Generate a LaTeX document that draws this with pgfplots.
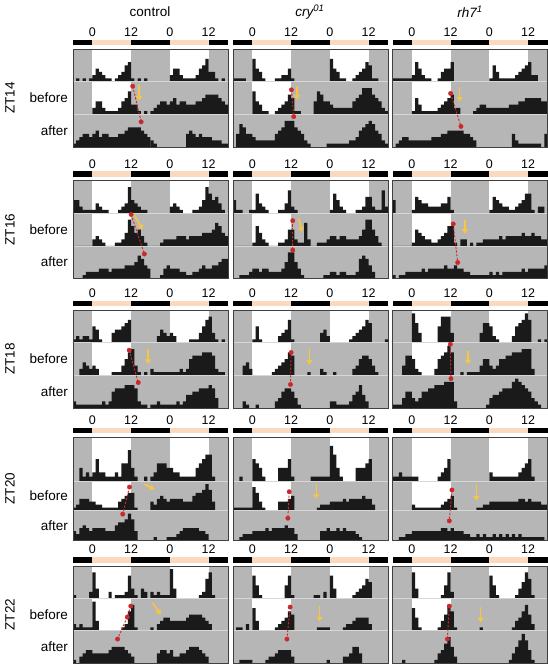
\documentclass[border=0pt]{standalone}
\usepackage{pgfplots}
\pgfplotsset{compat=1.18}
\usepackage{pgfplotstable}
\usepackage{fontspec}
\setmainfont{Liberation Sans}
\usetikzlibrary{arrows.meta}
\definecolor{bgray}{RGB}{182,182,182}
\definecolor{peach}{RGB}{250,217,190}
\definecolor{hist}{RGB}{26,26,26}
\definecolor{rdot}{RGB}{204,40,42}
\definecolor{yarr}{RGB}{247,198,64}
\definecolor{frm}{RGB}{64,64,64}
\definecolor{sep}{RGB}{215,215,215}

\newcommand\seg[2]{\pgfplotstableread[row sep=\\,header=false]{#20\\}#1}

% ---------- ZT14 ----------
\seg{\ctlXIVa}{0\\1\\0\\1\\0\\1\\2\\4\\3\\2\\1\\1\\0\\1\\2\\3\\5\\6\\1\\0\\1\\0\\1\\0\\}
\seg{\ctlXIVb}{0\\0\\0\\0\\0\\0\\2\\4\\4\\2\\1\\1\\1\\1\\2\\4\\5\\7\\3\\3\\1\\0\\1\\0\\}
\seg{\ctlXIVc}{1\\2\\3\\4\\4\\3\\4\\5\\3\\4\\4\\3\\3\\3\\4\\4\\5\\6\\6\\6\\6\\5\\4\\3\\}
\seg{\ctlXIVd}{2\\1\\0\\0\\0\\0\\0\\0\\0\\0\\0\\4\\5\\4\\3\\4\\3\\3\\3\\2\\2\\2\\1\\1\\}
\seg{\cryXIVa}{1\\1\\1\\1\\0\\0\\7\\4\\3\\1\\0\\0\\0\\1\\1\\2\\2\\4\\1\\0\\0\\0\\0\\0\\}
\seg{\cryXIVb}{0\\0\\0\\0\\0\\0\\7\\4\\3\\1\\1\\0\\0\\1\\2\\3\\4\\6\\5\\1\\1\\0\\0\\0\\}
\seg{\cryXIVc}{0\\4\\7\\6\\4\\4\\3\\2\\2\\2\\2\\2\\2\\4\\5\\6\\8\\8\\8\\6\\5\\4\\2\\1\\}
\seg{\cryXIVd}{0\\0\\0\\0\\0\\1\\1\\1\\1\\1\\1\\1\\2\\2\\3\\5\\6\\7\\8\\7\\5\\4\\2\\1\\}
\seg{\rhXIVa}{1\\1\\1\\1\\1\\1\\2\\6\\4\\2\\1\\1\\0\\0\\1\\3\\4\\4\\6\\0\\0\\0\\0\\0\\}
\seg{\rhXIVb}{0\\0\\0\\0\\0\\0\\1\\5\\3\\1\\1\\1\\1\\1\\2\\3\\4\\5\\6\\2\\2\\0\\0\\0\\}
\seg{\rhXIVc}{0\\1\\2\\3\\3\\2\\2\\2\\2\\2\\2\\2\\3\\3\\3\\4\\4\\5\\5\\5\\5\\5\\4\\4\\}
\seg{\rhXIVd}{3\\2\\0\\0\\0\\0\\0\\0\\0\\0\\0\\0\\0\\4\\2\\1\\1\\1\\1\\1\\1\\1\\0\\4\\}
% ---------- ZT16 ----------
\seg{\ctlXVIa}{4\\4\\2\\1\\1\\1\\1\\3\\2\\1\\1\\0\\0\\0\\1\\2\\3\\8\\4\\3\\2\\1\\1\\0\\}
\seg{\ctlXVIb}{0\\0\\0\\0\\0\\0\\2\\3\\2\\1\\0\\0\\0\\1\\1\\2\\4\\8\\6\\4\\5\\3\\1\\0\\}
\seg{\ctlXVIc}{0\\0\\0\\1\\2\\2\\2\\2\\3\\3\\3\\2\\3\\3\\3\\3\\4\\4\\4\\5\\7\\6\\4\\3\\}
\seg{\ctlXVId}{0\\0\\0\\1\\3\\4\\3\\3\\3\\2\\2\\1\\1\\2\\2\\3\\4\\3\\3\\4\\4\\5\\6\\6\\}
\seg{\cryXVIa}{4\\1\\1\\0\\0\\1\\1\\6\\3\\2\\1\\0\\0\\0\\1\\1\\3\\7\\2\\1\\0\\0\\0\\0\\}
\seg{\cryXVIb}{0\\0\\0\\0\\0\\0\\1\\6\\4\\2\\1\\0\\0\\0\\1\\1\\2\\5\\5\\2\\1\\1\\7\\2\\}
\seg{\cryXVIc}{0\\0\\1\\1\\1\\2\\3\\3\\2\\3\\3\\2\\2\\2\\2\\3\\5\\8\\8\\5\\3\\1\\0\\0\\}
\seg{\cryXVId}{0\\0\\0\\0\\1\\1\\2\\2\\1\\2\\2\\1\\1\\1\\2\\6\\7\\6\\4\\2\\0\\0\\0\\0\\}
\seg{\rhXVIa}{4\\0\\0\\0\\0\\0\\1\\5\\4\\3\\3\\2\\2\\2\\2\\3\\3\\5\\1\\0\\0\\0\\0\\0\\}
\seg{\rhXVIb}{0\\0\\0\\0\\0\\0\\1\\5\\4\\3\\2\\2\\1\\1\\2\\3\\4\\6\\6\\1\\0\\2\\2\\0\\}
\seg{\rhXVIc}{1\\0\\1\\1\\2\\2\\2\\2\\2\\3\\2\\3\\3\\3\\3\\3\\4\\3\\3\\4\\3\\3\\2\\2\\}
\seg{\rhXVId}{1\\1\\1\\1\\1\\1\\2\\1\\2\\1\\2\\2\\2\\2\\2\\2\\3\\2\\3\\3\\3\\3\\3\\4\\}
% ---------- ZT18 ----------
\seg{\ctlXVIIIa}{1\\2\\1\\2\\2\\1\\5\\4\\1\\0\\0\\0\\3\\4\\4\\5\\6\\7\\0\\0\\0\\0\\0\\0\\}
\seg{\ctlXVIIIb}{0\\0\\2\\4\\3\\2\\3\\2\\0\\0\\0\\0\\1\\1\\1\\3\\5\\7\\8\\3\\1\\0\\1\\0\\}
\seg{\ctlXVIIIc}{2\\1\\1\\1\\1\\1\\1\\1\\1\\2\\1\\2\\5\\6\\6\\6\\7\\7\\7\\6\\2\\1\\1\\0\\}
\seg{\ctlXVIIId}{1\\1\\2\\1\\1\\1\\1\\1\\2\\1\\2\\4\\4\\5\\5\\6\\6\\6\\7\\6\\3\\0\\0\\0\\}
\seg{\cryXVIIIa}{0\\0\\0\\0\\0\\0\\1\\5\\1\\0\\0\\0\\0\\0\\2\\3\\4\\7\\1\\0\\0\\0\\0\\0\\}
\seg{\cryXVIIIb}{0\\0\\0\\3\\4\\2\\0\\0\\0\\0\\0\\0\\1\\2\\3\\4\\5\\7\\6\\0\\0\\0\\0\\1\\}
\seg{\cryXVIIIc}{0\\0\\0\\2\\1\\0\\0\\1\\0\\0\\0\\0\\0\\2\\3\\5\\6\\6\\5\\3\\1\\0\\0\\0\\}
\seg{\cryXVIIId}{0\\0\\0\\0\\0\\0\\2\\2\\1\\1\\1\\1\\2\\4\\5\\7\\4\\2\\0\\0\\0\\0\\0\\0\\}
\seg{\rhXVIIIa}{0\\0\\0\\0\\0\\0\\9\\6\\3\\0\\0\\0\\0\\0\\5\\8\\8\\8\\3\\0\\0\\0\\0\\0\\}
\seg{\rhXVIIIb}{0\\0\\0\\3\\6\\6\\5\\2\\1\\0\\0\\0\\0\\2\\5\\6\\7\\9\\7\\0\\0\\1\\0\\1\\}
\seg{\rhXVIIIc}{1\\1\\1\\3\\5\\5\\3\\2\\3\\5\\5\\6\\6\\7\\7\\7\\8\\8\\8\\2\\0\\0\\0\\0\\}
\seg{\rhXVIIId}{0\\0\\0\\0\\0\\1\\3\\4\\4\\5\\6\\6\\6\\8\\9\\8\\7\\6\\5\\3\\2\\1\\0\\0\\}
% ---------- ZT20 ----------
\seg{\ctlXXa}{0\\0\\3\\1\\2\\1\\2\\5\\2\\2\\1\\1\\1\\2\\1\\4\\4\\7\\3\\1\\0\\0\\1\\0\\}
\seg{\ctlXXb}{1\\2\\4\\4\\4\\3\\3\\2\\2\\1\\1\\1\\1\\1\\3\\4\\5\\6\\6\\1\\0\\0\\0\\0\\}
\seg{\ctlXXc}{3\\2\\4\\5\\4\\3\\4\\4\\4\\4\\3\\3\\3\\5\\6\\6\\7\\9\\7\\3\\0\\0\\0\\0\\}
\seg{\ctlXXd}{0\\1\\0\\0\\0\\1\\1\\1\\2\\3\\4\\4\\4\\4\\4\\3\\3\\2\\0\\0\\0\\0\\0\\0\\}
\seg{\cryXXa}{0\\0\\1\\0\\0\\0\\5\\4\\3\\1\\0\\0\\0\\0\\3\\3\\3\\5\\1\\0\\0\\0\\0\\0\\}
\seg{\cryXXb}{1\\1\\1\\1\\1\\1\\8\\6\\3\\1\\0\\0\\0\\0\\3\\3\\3\\4\\5\\0\\0\\0\\0\\0\\}
\seg{\cryXXc}{0\\0\\1\\2\\2\\2\\3\\3\\3\\3\\4\\3\\4\\4\\4\\4\\5\\4\\4\\2\\0\\0\\0\\0\\}
\seg{\cryXXd}{0\\0\\0\\3\\3\\4\\3\\3\\4\\3\\4\\3\\3\\3\\2\\1\\0\\0\\0\\0\\0\\0\\0\\0\\}
\seg{\rhXXa}{1\\1\\2\\1\\1\\1\\1\\1\\0\\0\\0\\0\\0\\0\\1\\2\\3\\5\\0\\0\\0\\0\\0\\0\\}
\seg{\rhXXb}{0\\0\\0\\0\\0\\0\\2\\1\\1\\1\\1\\1\\1\\1\\1\\2\\3\\4\\5\\1\\0\\0\\0\\0\\}
\seg{\rhXXc}{0\\0\\1\\1\\2\\2\\3\\3\\3\\3\\3\\3\\3\\3\\3\\4\\4\\3\\4\\3\\3\\3\\2\\2\\}
\seg{\rhXXd}{1\\1\\2\\1\\2\\1\\1\\2\\1\\2\\1\\2\\1\\2\\1\\2\\1\\1\\1\\1\\1\\1\\1\\0\\}
% ---------- ZT22 ----------
\seg{\ctlXXIIa}{1\\0\\0\\0\\0\\2\\8\\3\\0\\0\\0\\2\\0\\1\\1\\1\\2\\7\\3\\1\\0\\3\\2\\0\\}
\seg{\ctlXXIIb}{2\\1\\2\\1\\1\\1\\9\\3\\0\\0\\0\\0\\0\\0\\0\\1\\2\\6\\8\\1\\0\\0\\0\\0\\}
\seg{\ctlXXIIc}{1\\0\\2\\3\\4\\4\\3\\3\\3\\3\\3\\4\\5\\5\\5\\5\\4\\3\\2\\0\\0\\0\\0\\0\\}
\seg{\ctlXXIId}{0\\0\\3\\4\\4\\3\\4\\2\\2\\3\\3\\4\\5\\5\\5\\4\\3\\2\\0\\0\\0\\0\\0\\0\\}
\seg{\cryXXIIa}{0\\0\\0\\0\\0\\0\\7\\4\\1\\0\\0\\0\\0\\0\\0\\0\\4\\7\\1\\0\\0\\0\\0\\0\\}
\seg{\cryXXIIb}{0\\1\\1\\0\\2\\0\\7\\3\\0\\0\\0\\0\\0\\1\\2\\3\\4\\6\\5\\0\\0\\0\\0\\0\\}
\seg{\cryXXIIc}{0\\0\\1\\1\\1\\1\\0\\0\\0\\0\\1\\2\\2\\3\\4\\4\\4\\4\\2\\0\\0\\0\\0\\0\\}
\seg{\cryXXIId}{0\\0\\0\\0\\0\\1\\0\\0\\0\\0\\2\\2\\3\\5\\5\\3\\0\\0\\0\\0\\0\\0\\0\\0\\}
\seg{\rhXXIIa}{0\\0\\0\\0\\0\\0\\8\\3\\0\\0\\0\\0\\0\\0\\0\\1\\4\\8\\2\\0\\0\\0\\0\\0\\}
\seg{\rhXXIIb}{0\\0\\0\\0\\0\\0\\7\\4\\1\\0\\0\\0\\0\\0\\1\\3\\5\\8\\6\\1\\0\\0\\0\\0\\}
\seg{\rhXXIIc}{0\\0\\0\\1\\0\\0\\0\\0\\0\\0\\0\\0\\0\\1\\3\\4\\6\\8\\5\\2\\0\\0\\0\\0\\}
\seg{\rhXXIId}{0\\0\\0\\0\\0\\0\\0\\0\\0\\0\\0\\0\\1\\3\\5\\7\\9\\7\\4\\1\\0\\0\\0\\0\\}

\pgfplotsset{
  panel/.style={
    scale only axis, width=155pt, anchor=north west,
    xmin=-6, xmax=42, ymin=0,
    xtick={0,12,24,36}, xticklabels={0,12,0,12}, xticklabel pos=upper,
    major tick length=0pt, ytick=\empty,
    xticklabel style={font=\fontsize{12.5}{13}\selectfont, yshift=8.5pt},
    axis line style={draw=frm, line width=0.9pt},
    clip=false, axis on top,
  },
  hb/.style={const plot, fill=hist, draw=none},
  rdash/.style={rdot, line width=0.9pt, dash pattern=on 2.2pt off 1.6pt},
  rdots/.style={only marks, mark=*, mark size=2.2pt, mark options={draw=rdot, fill=rdot}},
  yarw/.style={yarr, line width=1.6pt, -{Triangle[length=4.5pt,width=6pt]}},
}
\newcommand\ann[2]{%
  \addplot[rdash] coordinates {#1};
  \addplot[rdots] coordinates {#1};
  \addplot[yarw] coordinates {#2};}
% #1 x, #2 y, #3 height, #4 top-row scale, #5 ymax, #6-#9 day segments
\newcommand\panel[9]{%
\begin{axis}[panel, at={(#1pt,#2pt)}, height=#3pt, ymax=#5]
  \fill[bgray] (axis cs:-6,2) rectangle (axis cs:42,#5);
  \fill[white] (axis cs:0,2) rectangle (axis cs:12,#5);
  \fill[white] (axis cs:24,2) rectangle (axis cs:36,#5);
  \addplot[hb] table[x index=0, y index=0, x expr=\coordindex-6, y expr=#4*\thisrowno{0}/10+2] {#6} \closedcycle;
  \addplot[hb] table[x index=0, y index=0, x expr=\coordindex+18, y expr=#4*\thisrowno{0}/10+2] {#7} \closedcycle;
  \fill[bgray] (axis cs:-6,1) rectangle (axis cs:42,2);
  \fill[white] (axis cs:0,1) rectangle (axis cs:12,2);
  \addplot[hb] table[x index=0, y index=0, x expr=\coordindex-6, y expr=\thisrowno{0}/10+1] {#7} \closedcycle;
  \addplot[hb] table[x index=0, y index=0, x expr=\coordindex+18, y expr=\thisrowno{0}/10+1] {#8} \closedcycle;
  \fill[bgray] (axis cs:-6,0) rectangle (axis cs:42,1);
  \addplot[hb] table[x index=0, y index=0, x expr=\coordindex-6, y expr=\thisrowno{0}/10] {#8} \closedcycle;
  \addplot[hb] table[x index=0, y index=0, x expr=\coordindex+18, y expr=\thisrowno{0}/10] {#9} \closedcycle;
  \draw[sep, line width=0.6pt] (axis cs:-6,1) -- (axis cs:42,1);
  \draw[sep, line width=0.6pt] (axis cs:-6,2) -- (axis cs:42,2);
  \fill[black] (rel axis cs:0,1.036) rectangle (rel axis cs:0.125,1.092);
  \fill[peach] (rel axis cs:0.125,1.036) rectangle (rel axis cs:0.375,1.092);
  \fill[black] (rel axis cs:0.375,1.036) rectangle (rel axis cs:0.625,1.092);
  \fill[peach] (rel axis cs:0.625,1.036) rectangle (rel axis cs:0.875,1.092);
  \fill[black] (rel axis cs:0.875,1.036) rectangle (rel axis cs:1,1.092);
  \annot
\end{axis}}

\begin{document}
\begin{tikzpicture}
\useasboundingbox (0,0) rectangle (548pt,-664pt);
\tikzset{lab/.style={font=\fontsize{13.5}{15}\selectfont, inner sep=0pt}}
\node[lab] at (150pt,-12pt) {control};
\node[lab] at (310pt,-12pt) {\itshape cry\textsuperscript{01}};
\node[lab] at (470pt,-12pt) {\itshape rh7\textsuperscript{1}};
% row labels
\foreach \yc/\lbl in {98/ZT14, 229.5/ZT16, 359/ZT18, 488.5/ZT20, 614.5/ZT22}
  \node[lab, rotate=90] at (10pt,-\yc pt) {\lbl};
\foreach \yc in {98, 229.5, 359, 495.9, 614.5}
  \node[lab, anchor=east] at (68pt,-\yc pt) {before};
\foreach \yc in {130.7, 262, 391.7, 525.3, 646.8}
  \node[lab, anchor=east] at (68pt,-\yc pt) {after};

% ZT14
\def\annot{\ann{(12.5,1.86) (15.1,0.77)}{(14.5,1.9) (14.5,1.42)}}
\panel{73}{-49}{98}{1}{3}{\ctlXIVa}{\ctlXIVb}{\ctlXIVc}{\ctlXIVd}
\def\annot{\ann{(12.1,1.75) (12.8,0.93)}{(13.8,1.88) (13.8,1.45)}}
\panel{233}{-49}{98}{1}{3}{\cryXIVa}{\cryXIVb}{\cryXIVc}{\cryXIVd}
\def\annot{\ann{(12.0,1.64) (15.2,0.63)}{(14.8,1.85) (14.8,1.40)}}
\panel{392.5}{-49}{98}{1}{3}{\rhXIVa}{\rhXIVb}{\rhXIVc}{\rhXIVd}
% ZT16
\def\annot{\ann{(12.0,1.96) (16.1,0.75)}{(13.0,1.95) (15.5,1.5)}}
\panel{73}{-180.5}{98}{1}{3}{\ctlXVIa}{\ctlXVIb}{\ctlXVIc}{\ctlXVId}
\def\annot{\ann{(12.5,1.77) (12.5,0.87)}{(14.4,1.84) (15.3,1.43)}}
\panel{233}{-180.5}{98}{1}{3}{\cryXVIa}{\cryXVIb}{\cryXVIc}{\cryXVId}
\def\annot{\ann{(12.8,1.67) (14.2,0.49)}{(16.4,1.79) (16.4,1.37)}}
\panel{392.5}{-180.5}{98}{1}{3}{\rhXVIa}{\rhXVIb}{\rhXVIc}{\rhXVId}
% ZT18
\def\annot{\ann{(11.4,1.77) (14.2,0.78)}{(17.3,1.8) (17.3,1.35)}}
\panel{73}{-310}{98}{1}{3}{\ctlXVIIIa}{\ctlXVIIIb}{\ctlXVIIIc}{\ctlXVIIId}
\def\annot{\ann{(12.0,1.7) (11.8,0.72)}{(17.7,1.83) (17.7,1.33)}}
\panel{233}{-310}{98}{1}{3}{\cryXVIIIa}{\cryXVIIIb}{\cryXVIIIc}{\cryXVIIId}
\def\annot{\ann{(11.9,1.95) (12.1,0.9)}{(17.4,1.74) (17.4,1.34)}}
\panel{392.5}{-310}{98}{1}{3}{\rhXVIIIa}{\rhXVIIIb}{\rhXVIIIc}{\rhXVIIId}
% ZT20
\def\annot{\ann{(11.5,1.8) (9.4,0.88)}{(16,1.9) (19.2,1.72)}}
\panel{73}{-437}{103}{1.5}{3.5}{\ctlXXa}{\ctlXXb}{\ctlXXc}{\ctlXXd}
\def\annot{\ann{(11.4,1.64) (11.0,0.74)}{(19.8,1.92) (19.8,1.4)}}
\panel{233}{-437}{103}{1.5}{3.5}{\cryXXa}{\cryXXb}{\cryXXc}{\cryXXd}
\def\annot{\ann{(12.4,1.7) (11.6,0.65)}{(20.0,1.92) (20.0,1.34)}}
\panel{392.5}{-437}{103}{1.5}{3.5}{\rhXXa}{\rhXXb}{\rhXXc}{\rhXXd}
% ZT22
\def\annot{\ann{(11.9,1.76) (10.8,1.42) (7.8,0.74)}{(18.7,1.86) (21.1,1.5)}}
\panel{73}{-566}{97}{1}{3}{\ctlXXIIa}{\ctlXXIIb}{\ctlXXIIc}{\ctlXXIId}
\def\annot{\ann{(11.7,1.73) (10.7,0.74)}{(20.8,1.76) (20.8,1.29)}}
\panel{233}{-566}{97}{1}{3}{\cryXXIIa}{\cryXXIIb}{\cryXXIIc}{\cryXXIId}
\def\annot{\ann{(11.6,1.76) (11.0,0.74)}{(21.3,1.74) (21.3,1.26)}}
\panel{392.5}{-566}{97}{1}{3}{\rhXXIIa}{\rhXXIIb}{\rhXXIIc}{\rhXXIId}
\end{tikzpicture}
\end{document}
